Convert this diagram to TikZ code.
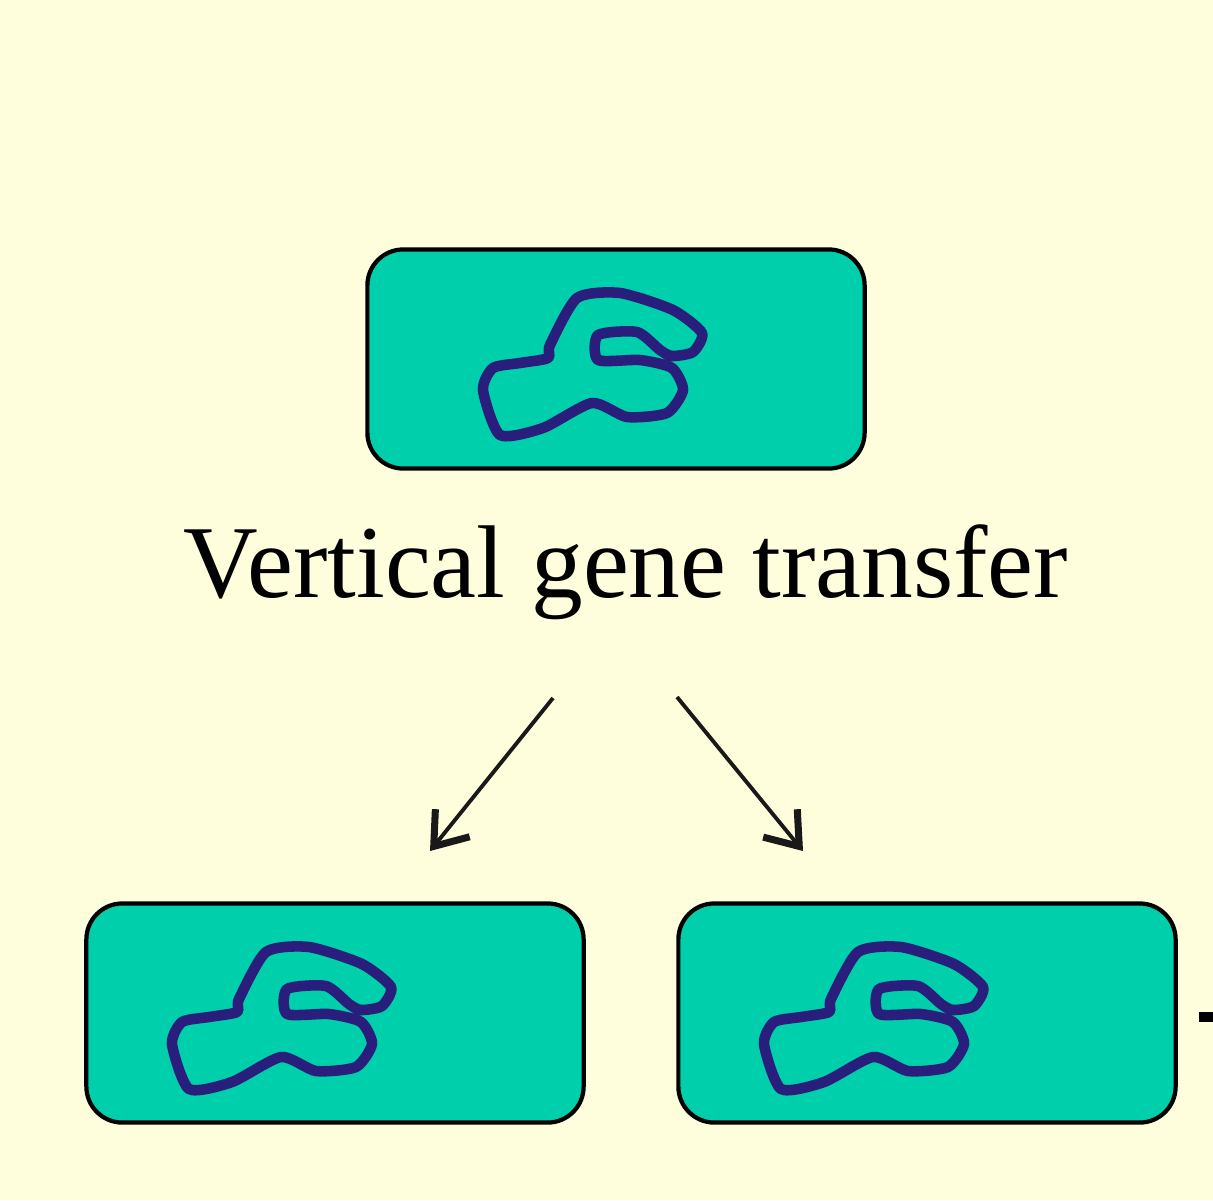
\documentclass[tikz,border=0pt]{standalone}
\usepackage{fontspec}
\setmainfont{Liberation Serif}
\usetikzlibrary {arrows.meta}

\definecolor{paper}{HTML}{FFFEDC}
\definecolor{cellfill}{HTML}{00CFAB}
\definecolor{dnaline}{HTML}{2A1E7C}

\tikzset{
  cell/.style={draw=black, fill=cellfill, line width=1.2pt, rounded corners=0.36cm,
    minimum width=4.97cm, minimum height=2.19cm, inner sep=0pt, outer sep=0pt},
  dna/.style={draw=dnaline, line width=3pt, line join=round},
  descent/.style={draw=black!90, line width=1.1pt, -{Straight Barb[length=3mm,width=4.4mm,line width=2pt]}}
}

\begin{document}
\begin{tikzpicture}[x=0.01cm, y=-0.01cm]
  \fill [paper] (0,0) rectangle (1213,1200);
  \useasboundingbox (0,0) rectangle (1213,1200);

  \node [cell] (parent) at (616,359) {};
  \node [cell] (left) at (335,1013) {};
  \node [cell] (right) at (927,1013) {};
  \node (caption) at (626,572) {\fontsize{29.4}{32}\selectfont Vertical gene transfer};

  \foreach \cellname/\dx in {parent/0, left/-30, right/-30} {
    \begin{scope}[shift={(\cellname.center)}, xshift=\dx*0.01cm]
      \draw [dna] plot [smooth cycle, tension=0.4] coordinates {
        (-66,-14) (-68,-1) (-96,4) (-123,9) (-133,31) (-116,76) (-73,69) (-24,44)
        (11,58) (51,54) (67,31) (56,9) (24,1) (-18,1) (-18,-24) (21,-27)
        (44,-9) (56,-3) (77,-7) (86,-26) (57,-49) (4,-66) (-39,-61)};
    \end{scope}
  }

  \coordinate (leftstart) at (553,698);
  \coordinate (leftend) at (430,851);
  \coordinate (rightstart) at (677,697);
  \coordinate (rightend) at (803,851);
  \coordinate (nextstart) at (1199,1017);
  \coordinate (nextend) at (1213,1017);

  \draw [descent] (leftstart) -- (leftend);
  \draw [descent] (rightstart) -- (rightend);
  \draw [line width=2.6pt] (nextstart) -- (nextend);
\end{tikzpicture}
\end{document}
